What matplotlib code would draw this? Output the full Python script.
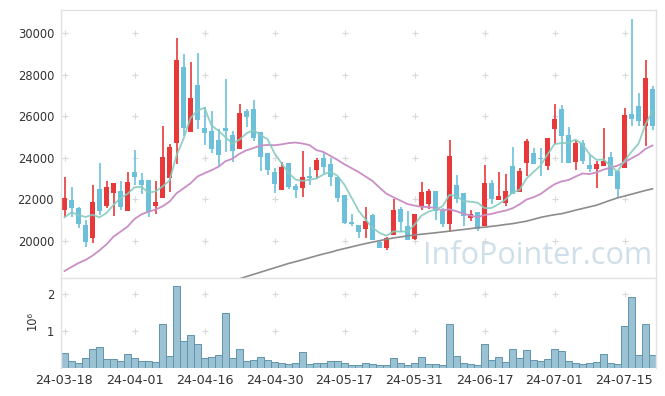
import matplotlib
matplotlib.use('Agg')
import matplotlib.pyplot as plt
import numpy as np
import pandas as pd

# ---- data ----
opens = [21495, 21961, 21575, 20755, 20145, 22491, 21671, 22314, 22394, 21446,
         23310, 22941, 22941, 21671, 22057, 23005, 24692, 28372, 25255, 27505,
         25432, 25287, 24853, 25432, 25094, 24435, 26251, 26348, 25255, 24242,
         23310, 22459, 23760, 22635, 22555, 23118, 23407, 23969, 23696, 23069,
         22186, 20884, 20755, 20579, 21237, 19920, 19663, 20273, 21511, 20707,
         20064, 21623, 21752, 22394, 21430, 20820, 22684, 22298, 21109, 21366,
         20723, 22780, 21961, 21832, 23600, 22362, 23760, 24226, 23969, 23600,
         25399, 26348, 25094, 23776, 24725, 23648, 23471, 23616, 24018, 23375,
         23503, 26107, 26492, 25528, 27312]
highs = [23053, 22571, 21607, 21012, 22668, 23728, 22877, 22800, 22877, 23294,
         24371, 23246, 22941, 22877, 25528, 24644, 29754, 28983, 28630, 29031,
         26444, 26251, 25383, 27778, 25303, 26573, 26332, 26765, 25255, 24242,
         23487, 23809, 23760, 22716, 24339, 23535, 24001, 24291, 23969, 23069,
         22186, 21270, 20755, 21639, 21270, 20032, 20161, 21993, 21607, 21446,
         21286, 22828, 22507, 22394, 21559, 24853, 23150, 22298, 21462, 21366,
         23632, 22925, 23310, 23230, 24532, 23519, 24885, 24451, 24451, 24949,
         26573, 26541, 25496, 24869, 24869, 24146, 23841, 25416, 24275, 23375,
         26412, 30687, 27135, 28694, 27456]
lows = [21125, 21157, 20595, 19695, 19904, 21237, 21559, 21205, 21462, 21446,
        22700, 22266, 21157, 21302, 22057, 22330, 23696, 25062, 25255, 25383,
        24612, 24242, 23600, 24291, 23809, 24435, 25496, 24805, 23359, 23166,
        22282, 22459, 22507, 22041, 22121, 22668, 22973, 23230, 22619, 21864,
        20787, 20691, 20145, 20112, 20032, 19630, 19550, 20273, 20434, 20048,
        20032, 21478, 21511, 20980, 20659, 20434, 21832, 20691, 20948, 20466,
        20723, 21752, 21961, 21671, 22266, 22362, 23101, 23712, 23101, 23391,
        24660, 23760, 23760, 23391, 23712, 23294, 22523, 23616, 23134, 22073,
        23503, 25528, 25528, 24580, 25335]
closes = [22057, 21559, 20820, 19952, 21848, 21446, 22587, 22780, 21623, 22828,
          23069, 22684, 21398, 21864, 24034, 24516, 28710, 25416, 26878, 25833,
          25207, 24435, 24146, 25303, 24323, 26139, 25962, 24933, 24050, 23407,
          22732, 23551, 22603, 22443, 23069, 23005, 23889, 23567, 23085, 22073,
          20852, 20804, 20434, 20948, 20032, 19663, 20112, 21462, 20916, 20048,
          21286, 22346, 22394, 21446, 20787, 24082, 22025, 21205, 21286, 20562,
          22780, 22025, 22153, 22394, 22266, 23375, 24805, 23712, 23937, 24949,
          25866, 25062, 23760, 24709, 23857, 23455, 23696, 23857, 23134, 22507,
          26058, 25882, 25769, 27842, 25544]
volumes_m = [0.40, 0.19, 0.13, 0.26, 0.51, 0.56, 0.24, 0.24, 0.18, 0.37,
             0.26, 0.18, 0.18, 0.15, 1.19, 0.32, 2.23, 0.73, 0.89, 0.65,
             0.26, 0.29, 0.35, 1.49, 0.26, 0.51, 0.18, 0.21, 0.29, 0.21,
             0.15, 0.13, 0.10, 0.13, 0.43, 0.10, 0.13, 0.13, 0.18, 0.18,
             0.13, 0.07, 0.07, 0.13, 0.10, 0.07, 0.07, 0.26, 0.13, 0.07,
             0.13, 0.29, 0.10, 0.10, 0.07, 1.19, 0.32, 0.13, 0.10, 0.07,
             0.65, 0.21, 0.29, 0.15, 0.51, 0.26, 0.48, 0.21, 0.18, 0.24,
             0.51, 0.45, 0.18, 0.13, 0.10, 0.13, 0.15, 0.37, 0.13, 0.10,
             1.14, 1.93, 0.35, 1.19, 0.35]
# moving-average values that depend on days before the window
ma5_head = [21125, 21366, 21237, 21141]
ma20_head = [18538, 18730, 18923, 19068, 19277, 19534, 19823, 20193, 20434, 20675,
             21045, 21270, 21398, 21495, 21655, 21880, 22282, 22523, 22764]
ma_long_start = 25
ma_long = [18160, 18270, 18375, 18480, 18585, 18690, 18795, 18900, 18988, 19080,
           19175, 19270, 19360, 19440, 19540, 19620, 19700, 19780, 19860, 19930,
           20000, 20070, 20130, 20180, 20230, 20273, 20310, 20345, 20380, 20420,
           20460, 20500, 20540, 20580, 20627, 20650, 20690, 20730, 20780, 20820,
           20880, 20940, 21030, 21120, 21190, 21250, 21300, 21380, 21470, 21550,
           21630, 21710, 21830, 21950, 22060, 22150, 22240, 22330, 22420, 22500]
tick_labels = ['24-03-18', '24-04-01', '24-04-16', '24-04-30', '24-05-17',
               '24-05-31', '24-06-17', '24-07-01', '24-07-15']
price_ticks = [20000, 22000, 24000, 26000, 28000, 30000]
vol_ticks = [1, 2]

# ---- styling ----
RED = '#e8393a'
BLUE = '#6cc0da'
SPINE = '#e2e2e2'
PLUS = '#d9d9d9'
TXT = '#333333'

o = np.array(opens, float); h = np.array(highs, float)
l = np.array(lows, float); c = np.array(closes, float)
n = len(c)
x = np.arange(n)
tick_pos = list(range(0, n, 10))[:len(tick_labels)]

ma5 = pd.Series(c).rolling(5).mean().to_numpy()
ma5[:len(ma5_head)] = ma5_head
ma20 = pd.Series(c).rolling(20).mean().to_numpy()
ma20[:len(ma20_head)] = ma20_head
xl = np.arange(ma_long_start, ma_long_start + len(ma_long))

W, H = 665, 396
fig = plt.figure(figsize=(W / 100, H / 100), dpi=100)
ax = fig.add_axes([61 / W, 1 - 278 / H, 595 / W, 268 / H])
axv = fig.add_axes([61 / W, 1 - 368 / H, 595 / W, 90 / H], sharex=ax)

# watermark
ax.text(538 / W, 1 - 256 / H, 'InfoPointer.com', transform=fig.transFigure, fontsize=22,
        family='Open Sans', color='#cfdfe9', ha='center', va='center', zorder=0.5)

up = c >= o
cols = np.where(up, RED, BLUE)
ax.vlines(x, l, h, colors=cols, lw=1.2, zorder=2)
body = np.maximum(np.abs(c - o), 45)
ax.bar(x, body, bottom=np.minimum(o, c), width=0.72, color=cols, zorder=2.5, linewidth=0)

ax.plot(xl, ma_long, color='#8c8c8c', lw=1.2, zorder=3)
ax.plot(x, ma20, color='#c98fc6', lw=1.3, zorder=3)
ax.plot(x, ma5, color='#86cbbf', lw=1.3, zorder=3, alpha=0.9)

ax.set_xlim(-0.5, n - 0.5)
ax.set_ylim(18200, 31120)
ax.set_yticks(price_ticks)
ax.set_yticklabels([str(v) for v in price_ticks])
ax.tick_params(axis='y', length=0, pad=5, labelsize=8.3, labelcolor=TXT)
ax.tick_params(axis='x', length=0, labelbottom=False)

gx, gy = np.meshgrid(tick_pos, price_ticks)
ax.plot(gx.ravel(), gy.ravel(), '+', color=PLUS, ms=4, mew=0.8, zorder=0.2)

axv.bar(x, volumes_m, width=1.0, color='#9ac2d2', edgecolor='#5f95ae', lw=0.7, zorder=2)
axv.set_ylim(0, 2.44)
axv.set_yticks(vol_ticks)
axv.set_yticklabels([str(v) for v in vol_ticks])
axv.tick_params(axis='y', length=0, pad=5, labelsize=8.3, labelcolor=TXT)
axv.set_xticks(tick_pos)
axv.set_xticklabels(tick_labels)
axv.tick_params(axis='x', length=0, pad=4, labelsize=9.2, labelcolor=TXT)
gx, gy = np.meshgrid(tick_pos, vol_ticks)
axv.plot(gx.ravel(), gy.ravel(), '+', color=PLUS, ms=4, mew=0.8, zorder=0.2)
fig.text(32 / W, 1 - 321 / H, '10⁶', rotation=90, fontsize=8.3, color=TXT,
         ha='center', va='center')

for a in (ax, axv):
    for s in a.spines.values():
        s.set_color(SPINE)
        s.set_linewidth(1.0)
axv.spines['bottom'].set_visible(False)
ax.spines['bottom'].set_visible(False)

fig.savefig('out.png', dpi=100)
